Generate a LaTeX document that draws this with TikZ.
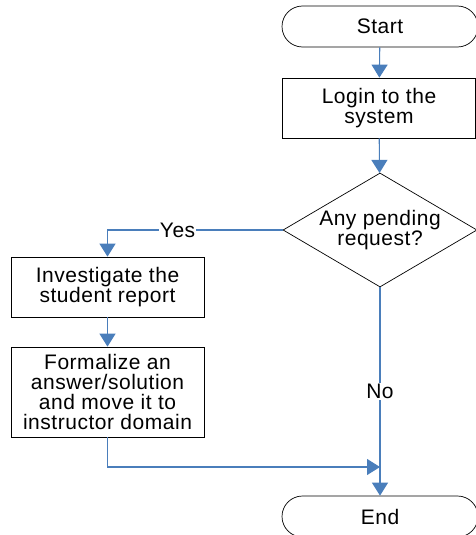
\documentclass[tikz,border=0pt]{standalone}
\usepackage{fontspec}
\setmainfont{Liberation Sans}[LetterSpace=2.5]
\usetikzlibrary{shapes.geometric,arrows.meta}
\definecolor{flow_blue}{HTML}{4A7EBB}

\tikzset{
    pill/.style={draw, rounded corners=20.5pt, minimum width=196pt, minimum height=41pt, inner sep=0pt},
    stepbox/.style={draw, align=center, minimum width=193pt, inner sep=0pt},
    ask/.style={draw, diamond, aspect=1.7, minimum width=194pt, minimum height=114pt, inner sep=0pt, align=center},
    flow/.style={flow_blue, line width=1.1pt, -{Triangle[width=16pt,length=13pt]}},
    tag/.style={fill=white, text=black, inner sep=1pt}
}

\begin{document}
\begin{tikzpicture}[x=1pt, y=-1pt, font=\fontsize{21}{20}\selectfont, line width=0.7pt]
    \useasboundingbox (0,0) rectangle (475,535);

    \node[pill] (start) at (380, 26.5) {Start};
    \node[stepbox, minimum height=60pt] (login) at (379, 108) {Login to the\\system};
    \node[ask] (query) at (380, 230) {Any pending\\request?};
    \node[stepbox, minimum height=60pt] (investigate) at (107.5, 287) {Investigate the\\student report};
    \node[stepbox, minimum height=90pt] (formalize) at (107.5, 392) {Formalize an\\answer/solution\\and move it to\\instructor domain};
    \node[pill] (end) at (380, 516.5) {End};

    \coordinate (merge) at (380, 467);

    \draw[flow] (start) -- (login);
    \draw[flow] (login) -- (query);
    \draw[flow] (query.west) -| node[tag, pos=0.3] (yes) {Yes} (investigate.north);
    \draw[flow] (investigate) -- (formalize);
    \draw[flow] (formalize.south) |- (merge);
    \draw[flow] (query.south) -- node[tag, pos=0.5] (no) {No} (end.north);

\end{tikzpicture}
\end{document}
